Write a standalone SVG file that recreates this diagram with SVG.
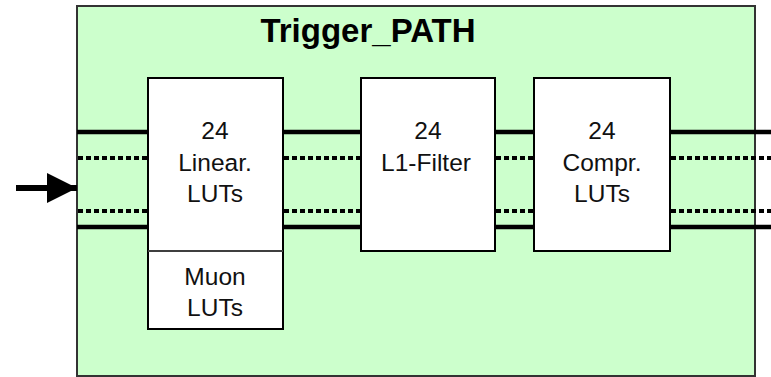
<svg xmlns="http://www.w3.org/2000/svg" width="771" height="377" viewBox="0 0 771 377">
<style>
.frame{fill:#ccffcc;stroke:#333;stroke-width:2}
.box{fill:#fff;stroke:#000;stroke-width:2}
.div{stroke:#555;stroke-width:1.5}
.solid{stroke:#000;stroke-width:4.5;fill:none}
.dot{stroke:#000;stroke-width:4;stroke-dasharray:5 3;fill:none}
.lbl{font-family:"Liberation Sans",Arial,sans-serif;font-size:24.5px;fill:#111;text-anchor:middle}
.title{font-family:"Liberation Sans",Arial,sans-serif;font-size:33px;font-weight:bold;fill:#000;text-anchor:middle}
</style>
<defs>
<marker id="ah" markerWidth="30" markerHeight="30" refX="30" refY="15" markerUnits="userSpaceOnUse" orient="auto">
<path d="M0,0 L30,15 L0,30 Z" fill="#000"/>
</marker>
</defs>
<g id="trigger_path">
<rect class="frame" x="77" y="6" width="678" height="370"/>
<text class="title" x="368" y="42">Trigger_PATH</text>
</g>
<g id="connectors">
<path class="solid" d="M77,132 H148 M283,132 H361 M495,132 H534 M670,132 H771"/>
<path class="solid" d="M77,227 H148 M283,227 H361 M495,227 H534 M670,227 H771"/>
<path class="dot" d="M78,158 H147 M284,158 H360 M496,158 H533 M671,158 H771"/>
<path class="dot" d="M78,211 H147 M284,211 H360 M496,211 H533 M671,211 H771"/>
<line x1="16" y1="188" x2="77" y2="188" stroke="#000" stroke-width="6" marker-end="url(#ah)"/>
</g>
<g id="linear_luts">
<rect class="box" x="148" y="78" width="135" height="173"/>
<text class="lbl" x="215" y="139">24</text>
<text class="lbl" x="215" y="170.5">Linear.</text>
<text class="lbl" x="215" y="202">LUTs</text>
</g>
<g id="muon_luts">
<rect class="box" x="148" y="251" width="135" height="78"/>
<line class="div" x1="148" y1="251" x2="283" y2="251"/>
<text class="lbl" x="215" y="285">Muon</text>
<text class="lbl" x="215" y="316">LUTs</text>
</g>
<g id="l1_filter">
<rect class="box" x="361" y="78" width="134" height="173"/>
<text class="lbl" x="428" y="139">24</text>
<text class="lbl" x="426" y="170.5">L1-Filter</text>
</g>
<g id="compr_luts">
<rect class="box" x="534" y="78" width="136" height="173"/>
<text class="lbl" x="602" y="139">24</text>
<text class="lbl" x="602" y="170.5">Compr.</text>
<text class="lbl" x="602" y="202">LUTs</text>
</g>
</svg>
